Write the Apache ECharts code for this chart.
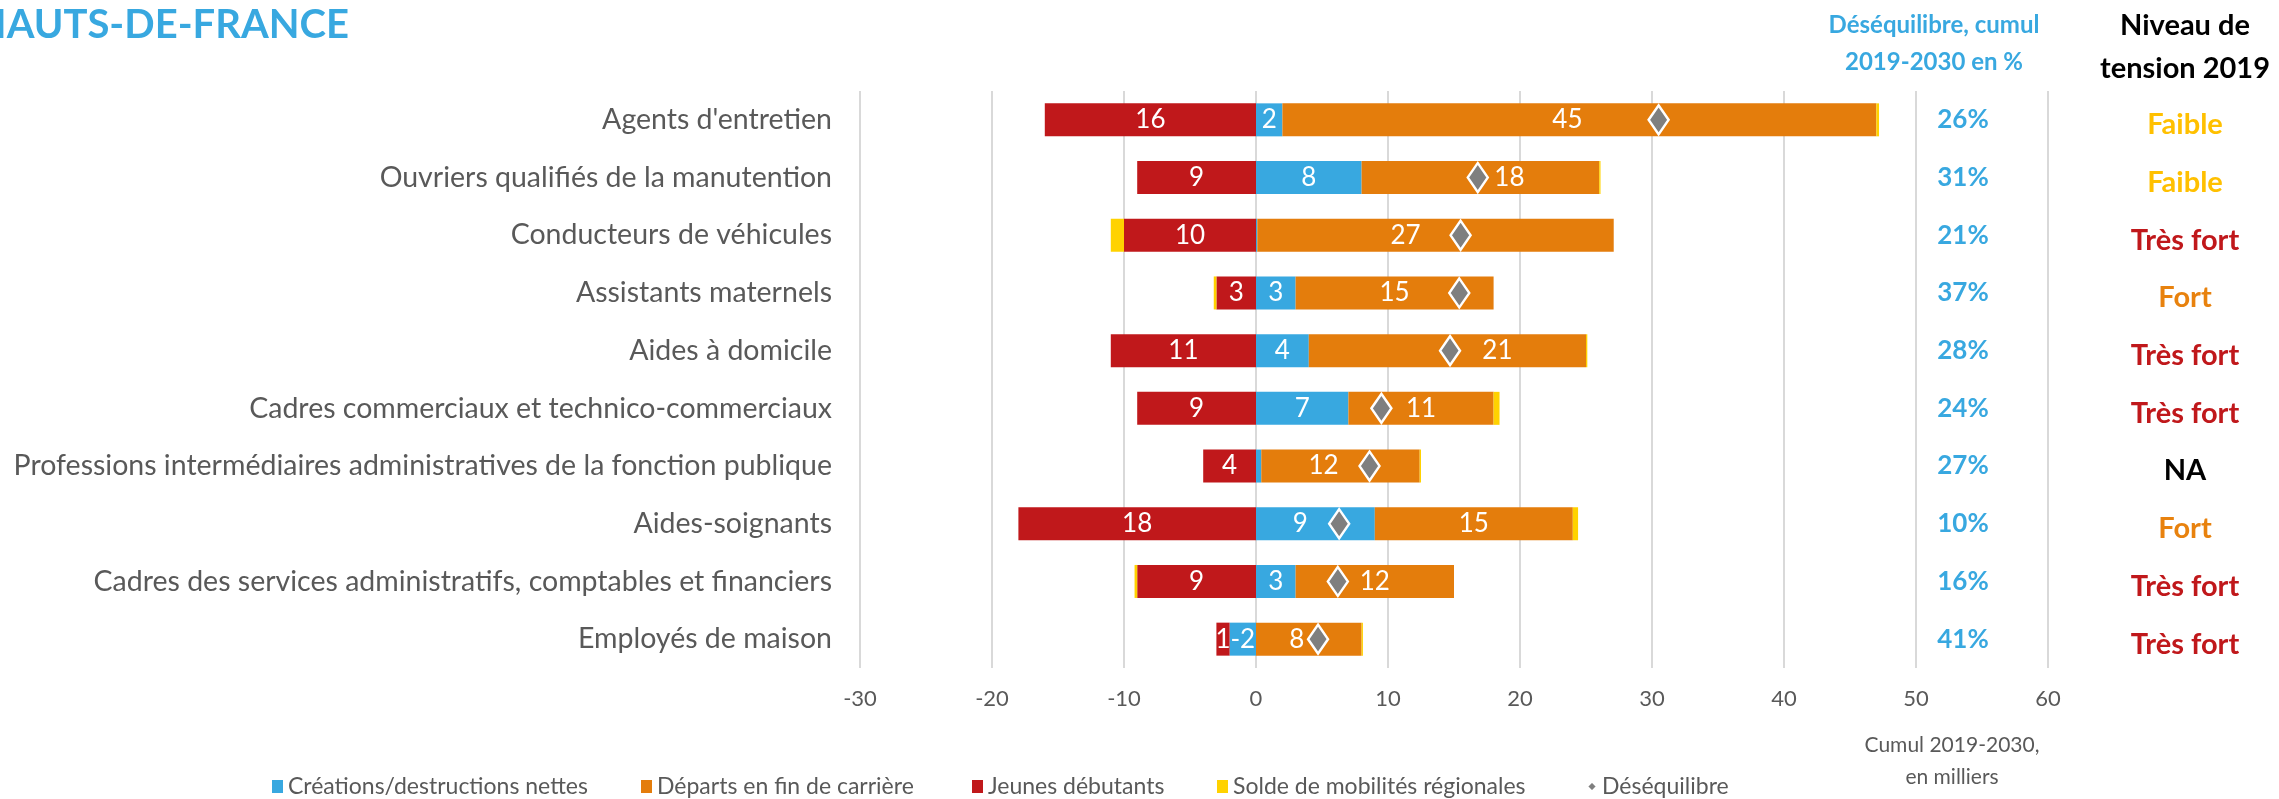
<!DOCTYPE html>
<html>
<head>
<meta charset="utf-8">
<title>Hauts-de-France – déséquilibres par métier</title>
<script src="https://cdn.jsdelivr.net/npm/echarts@6/dist/echarts.min.js"></script>
<style>
  html, body { margin: 0; padding: 0; background: #ffffff; }
  #chart { width: 2279px; height: 799px; }
</style>
</head>
<body>
<div id="chart"></div>
<script>
// Métiers, du plus grand déséquilibre au plus petit
const categories = [
  "Agents d'entretien",
  "Ouvriers qualifiés de la manutention",
  "Conducteurs de véhicules",
  "Assistants maternels",
  "Aides à domicile",
  "Cadres commerciaux et technico-commerciaux",
  "Professions intermédiaires administratives de la fonction publique",
  "Aides-soignants",
  "Cadres des services administratifs, comptables et financiers",
  "Employés de maison"
];

// Cumul 2019-2030, en milliers
const creations    = [2, 8, 0.1, 3, 4, 7, 0.4, 9, 3, -2];
const departs      = [45, 18, 27, 15, 21, 11, 12, 15, 12, 8];
const jeunes       = [-16, -9, -10, -3, -11, -9, -4, -18, -9, -1];
const solde        = [0.2, 0.1, -1, -0.2, 0.1, 0.45, 0.1, 0.4, -0.2, 0.1];
const desequilibre = [30.5, 16.8, 15.5, 15.4, 14.7, 9.5, 8.6, 6.3, 6.2, 4.7];

// Colonnes de droite
const desequilibrePct = ["26%", "31%", "21%", "37%", "28%", "24%", "27%", "10%", "16%", "41%"];
const tension = ["Faible", "Faible", "Très fort", "Fort", "Très fort", "Très fort", "NA", "Fort", "Très fort", "Très fort"];

// Graduations de l'axe horizontal
const xMin = -30, xMax = 60, xStep = 10;

const FONT = "Lato, 'Open Sans', sans-serif";
const GREY_TEXT = "#595959";
const COLORS = {
  creations: "#38A8E0",
  departs: "#E47D0C",
  jeunes: "#C0181B",
  solde: "#FFD200",
  deseq: "#7F7F7F"
};
const TENSION_STYLE = {
  "Faible": "faible",
  "Fort": "fort",
  "Très fort": "tresfort",
  "NA": "na"
};

// Décalages horizontaux (px) de certaines étiquettes pour éviter les losanges
const labelShift = {
  creations: { 7: -15 },
  departs: { 0: -12, 1: 29, 2: -30, 4: 50, 6: -17, 9: -12 }
};

function withShift(values, shifts) {
  return values.map((v, i) =>
    shifts && shifts[i] !== undefined
      ? { value: v, label: { offset: [shifts[i], 0] } }
      : v
  );
}

const barLabel = (formatter) => ({
  show: true,
  position: "inside",
  color: "#ffffff",
  fontFamily: FONT,
  fontSize: 26,
  formatter: formatter
});

const barSeries = (name, values, color, label, shifts) => ({
  name: name,
  type: "bar",
  stack: "total",
  barWidth: 33,
  data: withShift(values, shifts),
  itemStyle: { color: color },
  label: label,
  emphasis: { disabled: true }
});

const chart = echarts.init(document.getElementById("chart"), null, { renderer: "canvas" });

const legendBase = {
  top: 775,
  padding: 0,
  itemGap: 0,
  itemWidth: 11,
  itemHeight: 13,
  icon: "rect",
  selectedMode: false,
  textStyle: { color: GREY_TEXT, fontFamily: FONT, fontSize: 23 }
};

const tensionText = (color) => ({
  color: color, fontFamily: FONT, fontWeight: "bold", fontSize: 29, padding: [10, 0, 0, 0]
});

const option = {
  animation: false,
  backgroundColor: "#ffffff",
  textStyle: { fontFamily: FONT },
  grid: {
    left: 860,
    right: 231,
    top: 91,
    height: 577,
    containLabel: false,
    outerBoundsMode: "none"
  },
  legend: [
    Object.assign({}, legendBase, { left: 272, data: ["Créations/destructions nettes"] }),
    Object.assign({}, legendBase, { left: 641, data: ["Départs en fin de carrière"] }),
    Object.assign({}, legendBase, { left: 972, data: ["Jeunes débutants"] }),
    Object.assign({}, legendBase, { left: 1217, data: ["Solde de mobilités régionales"] }),
    Object.assign({}, legendBase, {
      left: 1586, icon: "diamond", itemWidth: 10, itemHeight: 10,
      data: ["Déséquilibre"]
    })
  ],
  xAxis: {
    type: "value",
    min: xMin,
    max: xMax,
    interval: xStep,
    axisLine: { show: false },
    axisTick: { show: false },
    splitLine: { show: true, lineStyle: { color: "#D9D9D9", width: 2 } },
    axisLabel: { color: GREY_TEXT, fontFamily: FONT, fontSize: 22, margin: 20 }
  },
  yAxis: [
    {
      type: "category",
      data: categories,
      inverse: true,
      axisLine: { show: false },
      axisTick: { show: false },
      splitLine: { show: false },
      axisLabel: { color: GREY_TEXT, fontFamily: FONT, fontSize: 28.5, margin: 28 }
    },
    {
      // colonne « Déséquilibre, cumul 2019-2030 en % »
      type: "category",
      data: categories,
      inverse: true,
      position: "right",
      axisLine: { show: false },
      axisTick: { show: false },
      splitLine: { show: false },
      axisLabel: {
        margin: -85,
        align: "center",
        color: "#38A8E0",
        fontFamily: FONT,
        fontWeight: "bold",
        fontSize: 26,
        formatter: (v, i) => desequilibrePct[i]
      }
    },
    {
      // colonne « Niveau de tension 2019 »
      type: "category",
      data: categories,
      inverse: true,
      position: "right",
      axisLine: { show: false },
      axisTick: { show: false },
      splitLine: { show: false },
      axisLabel: {
        margin: 137,
        align: "center",
        formatter: (v, i) => "{" + TENSION_STYLE[tension[i]] + "|" + tension[i] + "}",
        rich: {
          faible:   tensionText("#FFC000"),
          fort:     tensionText("#E8820E"),
          tresfort: tensionText("#C0181B"),
          na:       tensionText("#000000")
        }
      }
    }
  ],
  series: [
    barSeries("Créations/destructions nettes", creations, COLORS.creations,
      barLabel(p => Math.abs(p.value) >= 1 ? String(p.value) : ""), labelShift.creations),
    barSeries("Départs en fin de carrière", departs, COLORS.departs,
      barLabel(p => String(p.value)), labelShift.departs),
    barSeries("Jeunes débutants", jeunes, COLORS.jeunes,
      barLabel(p => String(Math.abs(p.value)))),
    barSeries("Solde de mobilités régionales", solde, COLORS.solde, { show: false }),
    {
      name: "Déséquilibre",
      type: "scatter",
      symbol: "diamond",
      symbolSize: [20, 29],
      z: 10,
      data: desequilibre.map((v, i) => [v, categories[i]]),
      itemStyle: { color: COLORS.deseq, borderColor: "#ffffff", borderWidth: 2.5, opacity: 1 },
      emphasis: { disabled: true }
    }
  ],
  graphic: [
    {
      type: "text",
      x: 349, y: 25,
      style: {
        text: "HAUTS-DE-FRANCE",
        fill: "#38A8E0",
        font: "bold 40px " + FONT,
        textAlign: "right",
        textVerticalAlign: "middle"
      }
    },
    {
      type: "text",
      x: 1934, y: 44,
      style: {
        text: "Déséquilibre, cumul\n2019-2030 en %",
        fill: "#38A8E0",
        font: "bold 24px " + FONT,
        lineHeight: 37,
        textAlign: "center",
        textVerticalAlign: "middle"
      }
    },
    {
      type: "text",
      x: 2185, y: 47,
      style: {
        text: "Niveau de\ntension 2019",
        fill: "#000000",
        font: "bold 29px " + FONT,
        lineHeight: 43,
        textAlign: "center",
        textVerticalAlign: "middle"
      }
    },
    {
      type: "text",
      x: 1952, y: 761,
      style: {
        text: "Cumul 2019-2030,\nen milliers",
        fill: GREY_TEXT,
        font: "21px " + FONT,
        lineHeight: 32,
        textAlign: "center",
        textVerticalAlign: "middle"
      }
    }
  ]
};

chart.setOption(option);
</script>
</body>
</html>
